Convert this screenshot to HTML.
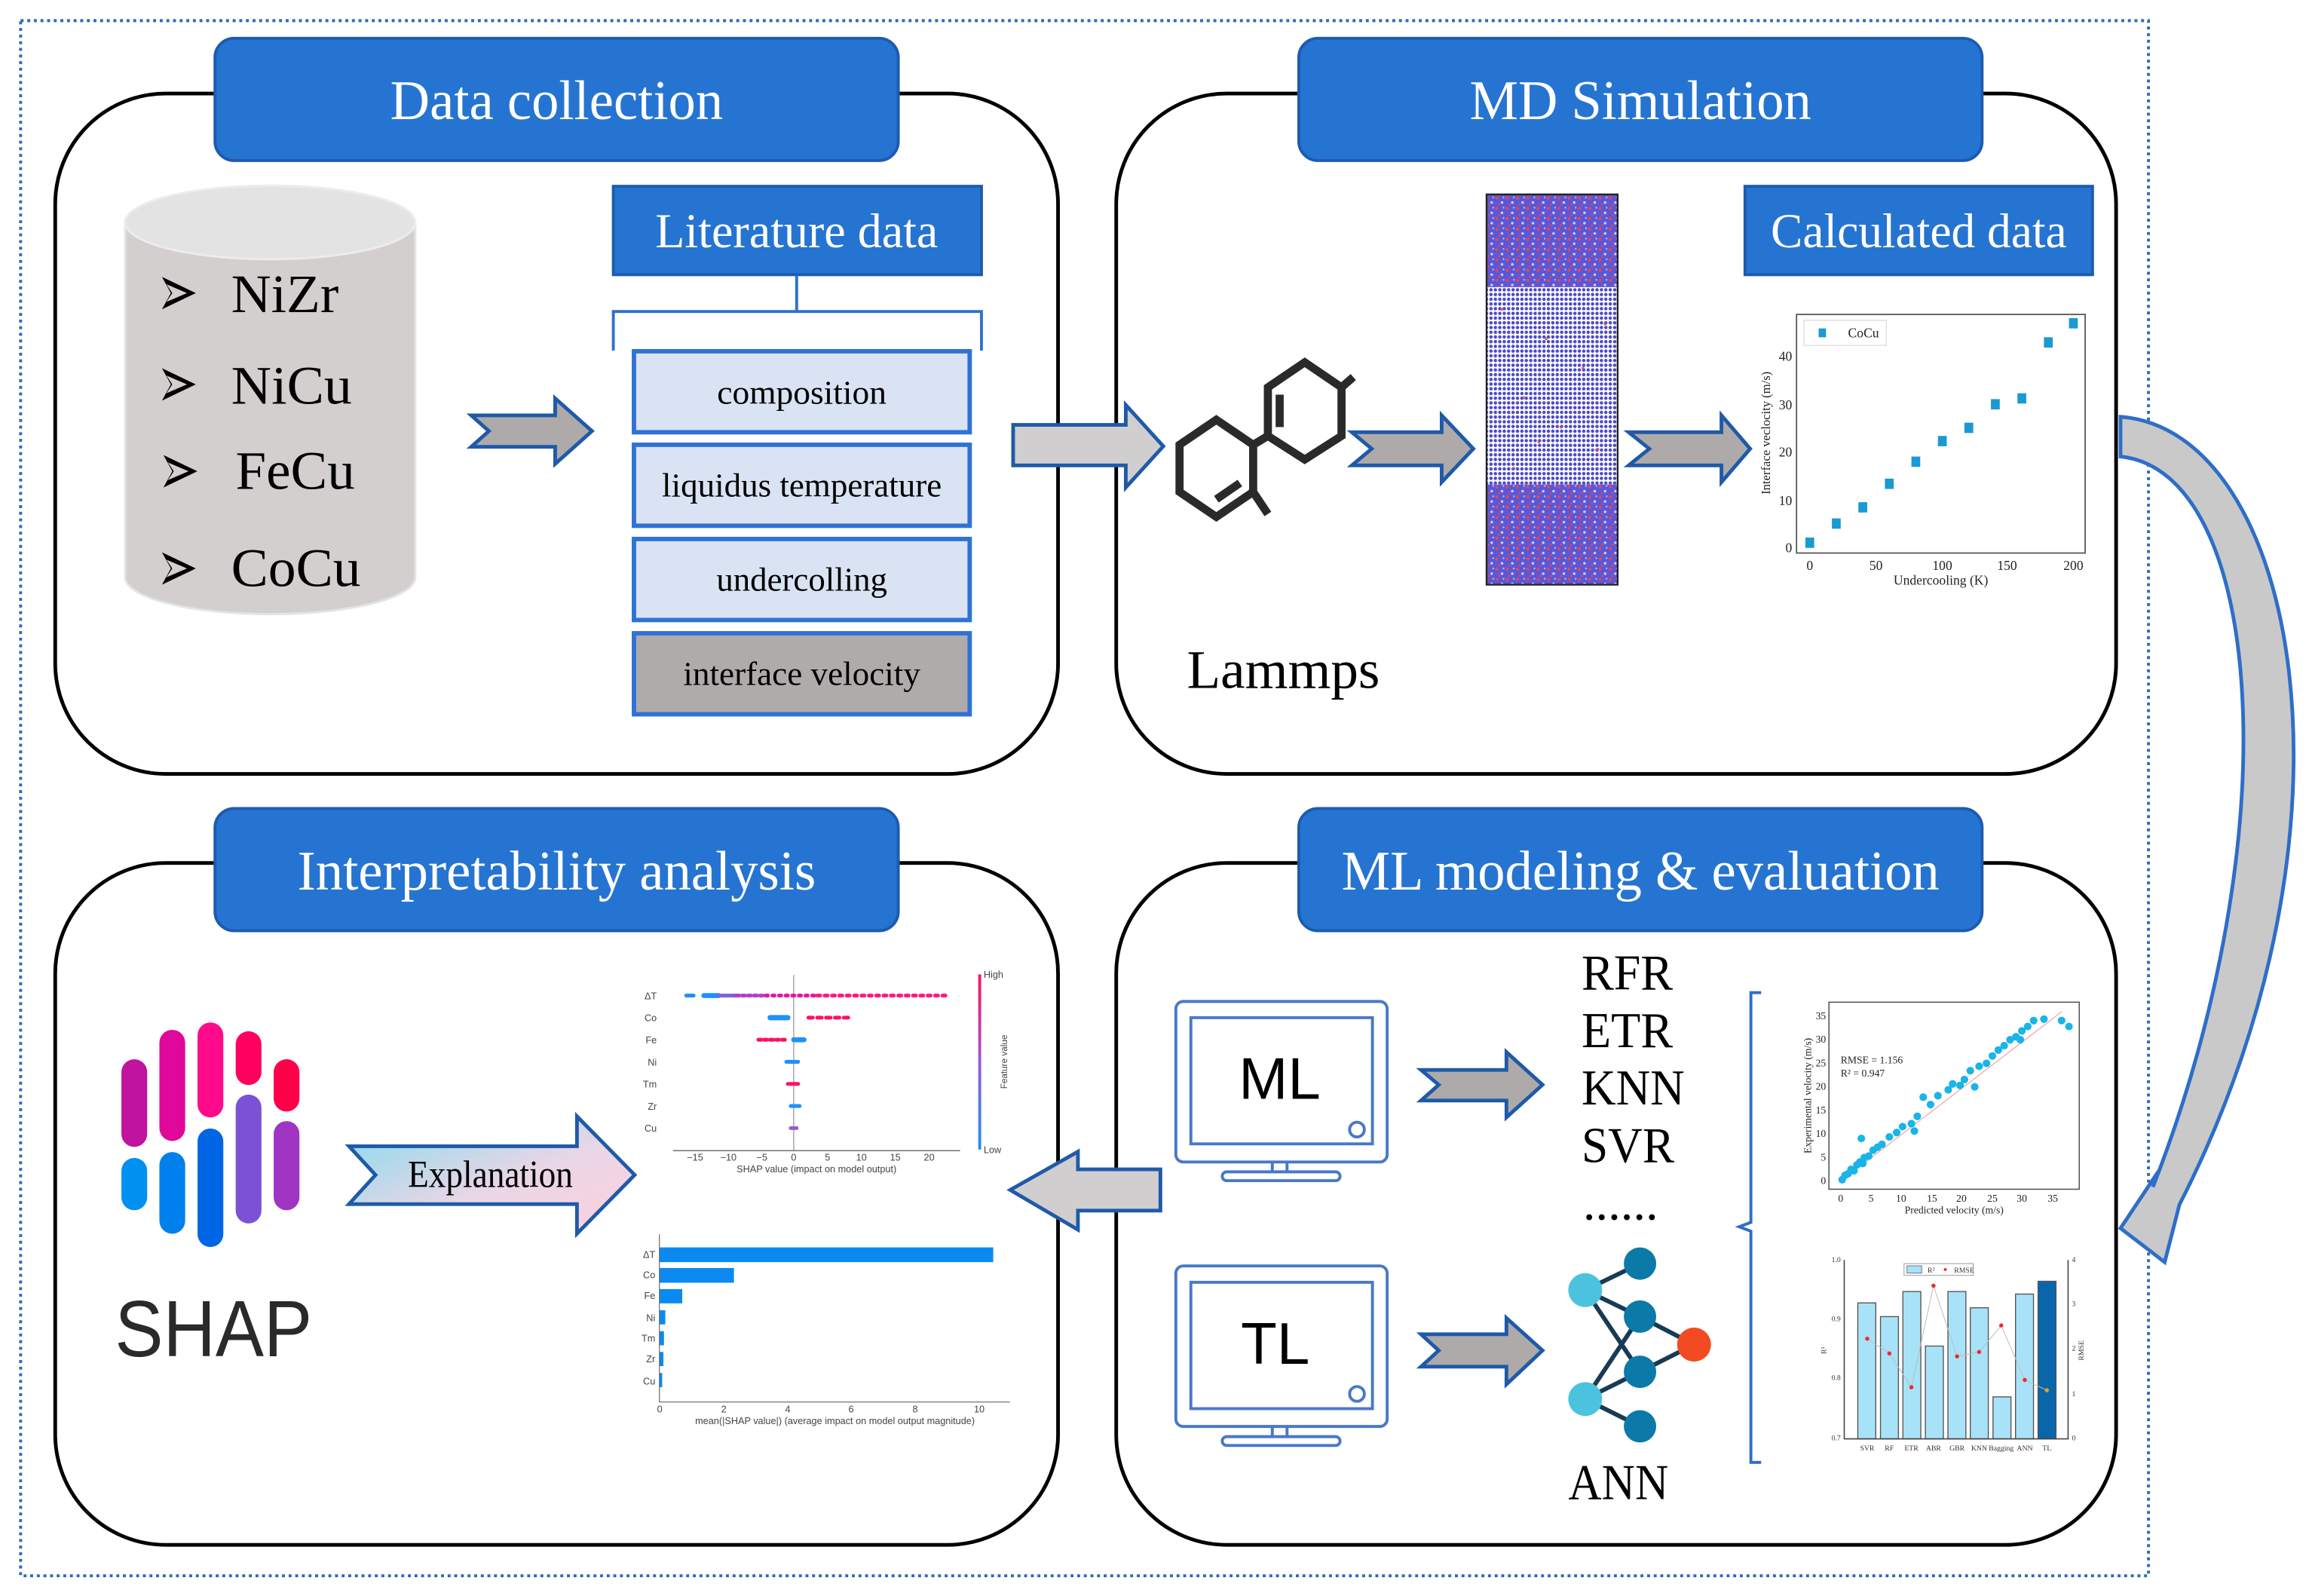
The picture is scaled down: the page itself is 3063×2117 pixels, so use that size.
<!DOCTYPE html>
<html><head><meta charset="utf-8"><style>html,body{margin:0;padding:0;background:#fff}svg{display:block}</style></head>
<body>
<svg xmlns="http://www.w3.org/2000/svg" width="3063" height="2117" viewBox="0 0 1568 1083.7" font-family="'Liberation Serif', serif">
<defs>
<pattern id="dense" width="7" height="7" patternUnits="userSpaceOnUse">
<rect width="7" height="7" fill="#5b57d6"/>
<circle cx="1.5" cy="1.5" r="1.1" fill="#e8454f"/><circle cx="5" cy="4.5" r="0.9" fill="#fff" opacity="0.7"/><circle cx="3" cy="6" r="0.8" fill="#e8454f" opacity="0.8"/><circle cx="6" cy="1" r="0.6" fill="#fff" opacity="0.6"/>
</pattern>
<pattern id="lattice" width="3" height="3.2" patternUnits="userSpaceOnUse">
<circle cx="1.5" cy="1.6" r="1.15" fill="#4a48c8"/>
</pattern>
<linearGradient id="expl" x1="0" y1="0" x2="1" y2="1"><stop offset="0" stop-color="#7fdcef"/><stop offset="0.55" stop-color="#e8d6e6"/><stop offset="1" stop-color="#ffd0dc"/></linearGradient>
<linearGradient id="cbar" x1="0" y1="1" x2="0" y2="0"><stop offset="0" stop-color="#1e90ff"/><stop offset="0.5" stop-color="#9a5ad0"/><stop offset="1" stop-color="#ff1060"/></linearGradient>
</defs>

<rect x="14" y="14" width="1445" height="1056" fill="none" stroke="#2e6ab8" stroke-width="2" stroke-dasharray="2,2.5"/>

<g fill="none" stroke="#000" stroke-width="2.5">
<rect x="37.5" y="63.5" width="681" height="462" rx="75" ry="75"/>
<rect x="758" y="63.5" width="679" height="462" rx="75" ry="75"/>
<rect x="37.5" y="586" width="681" height="463" rx="75" ry="75"/>
<rect x="758" y="586" width="679" height="463" rx="75" ry="75"/>
</g>

<g fill="#2674d1" stroke="#1c5bb0" stroke-width="2">
<rect x="146" y="26" width="464" height="83" rx="13"/>
<rect x="882" y="26" width="464" height="83" rx="13"/>
<rect x="146" y="549" width="464" height="83" rx="13"/>
<rect x="882" y="549" width="464" height="83" rx="13"/>
</g>
<g fill="#fff" font-size="38" text-anchor="middle">
<text x="378" y="81" textLength="226" lengthAdjust="spacingAndGlyphs">Data collection</text>
<text x="1114" y="81" textLength="232" lengthAdjust="spacingAndGlyphs">MD Simulation</text>
<text x="378" y="604" textLength="352" lengthAdjust="spacingAndGlyphs">Interpretability analysis</text>
<text x="1114" y="604" textLength="406" lengthAdjust="spacingAndGlyphs">ML modeling &amp; evaluation</text>
</g>

<path d="M85,151 L85,392 A98.5,25 0 0 0 282,392 L282,151 Z" fill="#d3cfcf" stroke="#e4e4e4" stroke-width="1.5"/>
<ellipse cx="183.5" cy="151" rx="98.5" ry="25" fill="#e3e3e3" stroke="#ececec" stroke-width="1.5"/>
<g fill="#000">
<path d="M110,188 L133,199 L110,210 L116,199 Z M113,193 L127,199 L113,205 L117,199Z" fill-rule="evenodd"/>
<path d="M110,250 L133,261 L110,272 L116,261 Z M113,255 L127,261 L113,267 L117,261Z" fill-rule="evenodd"/>
<path d="M111,309 L134,320 L111,331 L117,320 Z M114,314 L128,320 L114,326 L118,320Z" fill-rule="evenodd"/>
<path d="M110,375 L133,386 L110,397 L116,386 Z M113,380 L127,386 L113,392 L117,386Z" fill-rule="evenodd"/>
</g>
<g font-size="37" fill="#000">
<text x="157" y="212" textLength="73" lengthAdjust="spacingAndGlyphs">NiZr</text>
<text x="157" y="274" textLength="82" lengthAdjust="spacingAndGlyphs">NiCu</text>
<text x="160" y="332" textLength="81" lengthAdjust="spacingAndGlyphs">FeCu</text>
<text x="157" y="398" textLength="88" lengthAdjust="spacingAndGlyphs">CoCu</text>
</g>

<g fill="#aeaaaa" stroke="#1f5aa8" stroke-width="2.5" stroke-linejoin="miter">
<path d="M320,282 L377,282 L377,270.5 L402,292.7 L377,315 L377,303.4 L320,303.4 L332,292.7 Z"/>
<path d="M918,293.5 L979,293.5 L979,282 L1000.5,304.7 L979,327.4 L979,316 L918,316 L931.5,304.7 Z"/>
<path d="M1106,293.5 L1169,293.5 L1169,282 L1188.5,304.7 L1169,327.4 L1169,316 L1106,316 L1120,304.7 Z"/>
<path d="M965,726.5 L1023,726.5 L1023,714.4 L1047.5,736.6 L1023,758.7 L1023,747.3 L965,747.3 L977,736.6 Z"/>
<path d="M965,906 L1023,906 L1023,895 L1047.5,917 L1023,940 L1023,928 L965,928 L977,917 Z"/>
</g>
<path d="M688,288.5 L764.5,288.5 L764.5,275 L790,303 L764.5,331 L764.5,316 L688,316 Z" fill="#d0cece" stroke="#1f5aa8" stroke-width="2.5"/>
<path d="M788,794 L732,794 L732,782 L686,808 L732,835 L732,822 L788,822 Z" fill="#d0cece" stroke="#1f5aa8" stroke-width="2.5"/>

<rect x="416.5" y="126.5" width="250" height="60" fill="#2674d1" stroke="#1c5bb0" stroke-width="2"/>
<text x="541" y="168" font-size="33" fill="#fff" text-anchor="middle" textLength="192" lengthAdjust="spacingAndGlyphs">Literature data</text>
<path d="M541,187 L541,211.5 M416.5,238 L416.5,211.5 L666.5,211.5 L666.5,238" fill="none" stroke="#2f72cc" stroke-width="2"/>
<g stroke="#2f72d6" stroke-width="3">
<rect x="430.5" y="238.5" width="228" height="55" fill="#dae3f3"/>
<rect x="430.5" y="302" width="228" height="55" fill="#dae3f3"/>
<rect x="430.5" y="366" width="228" height="55" fill="#dae3f3"/>
<rect x="430.5" y="430" width="228" height="55" fill="#afabab"/>
</g>
<g font-size="23" fill="#000" text-anchor="middle">
<text x="544.5" y="274" textLength="115" lengthAdjust="spacingAndGlyphs">composition</text>
<text x="544.5" y="337" textLength="190" lengthAdjust="spacingAndGlyphs">liquidus temperature</text>
<text x="544.5" y="401" textLength="116" lengthAdjust="spacingAndGlyphs">undercolling</text>
<text x="544.5" y="465" textLength="161" lengthAdjust="spacingAndGlyphs">interface velocity</text>
</g>

<g fill="none" stroke="#2a2a2a" stroke-width="5.5" stroke-linejoin="miter">
<path d="M826,285 L851,302 L851,334 L826,351 L801,334 L801,302 Z"/>
<path d="M886,246 L911,263 L911,296 L886,312 L861,296 L861,263 Z"/>
<path d="M851,302 L861,296 M911,263 L919,256 M851,334 L861,349 M869,268 L869,290 M826,339 L842,328"/>
</g>
<rect x="1009.5" y="132" width="89" height="63" fill="url(#dense)"/>
<rect x="1009.5" y="195" width="89" height="134" fill="#fff"/>
<rect x="1009.5" y="195" width="89" height="134" fill="url(#lattice)"/>
<g fill="#e24a55" opacity="0.8">
<circle cx="1020" cy="210" r="1"/><circle cx="1050" cy="230" r="1"/><circle cx="1075" cy="250" r="1"/><circle cx="1035" cy="270" r="1"/><circle cx="1060" cy="290" r="1"/><circle cx="1085" cy="305" r="1"/><circle cx="1028" cy="318" r="1"/><circle cx="1090" cy="220" r="1"/><circle cx="1045" cy="300" r="1"/>
</g>
<rect x="1009.5" y="329" width="89" height="68" fill="url(#dense)"/>
<rect x="1009.5" y="132" width="89" height="265" fill="none" stroke="#222" stroke-width="1.2"/>

<rect x="1185" y="126.5" width="236" height="60" fill="#2674d1" stroke="#1c5bb0" stroke-width="2"/>
<text x="1303" y="168" font-size="33" fill="#fff" text-anchor="middle" textLength="201" lengthAdjust="spacingAndGlyphs">Calculated data</text>

<rect x="1220" y="213.5" width="196" height="162" fill="none" stroke="#555" stroke-width="0.9"/>
<g fill="#1a9ad0">
<rect x="1226" y="365" width="6" height="7"/><rect x="1244" y="352" width="6" height="7"/><rect x="1262" y="341" width="6" height="7"/><rect x="1280" y="325" width="6" height="7"/><rect x="1298" y="310" width="6" height="7"/><rect x="1316" y="296" width="6" height="7"/><rect x="1334" y="287" width="6" height="7"/><rect x="1352" y="271" width="6" height="7"/><rect x="1370" y="267" width="6" height="7"/><rect x="1388" y="229" width="6" height="7"/><rect x="1405" y="216" width="6" height="7"/>
<rect x="1235" y="223" width="5" height="6"/>
</g>
<rect x="1225" y="217.5" width="56" height="17" fill="none" stroke="#ddd" stroke-width="0.7"/>
<g font-size="9" fill="#222">
<text x="1255" y="229">CoCu</text>
<g text-anchor="end"><text x="1217" y="375">0</text><text x="1217" y="343">10</text><text x="1217" y="310">20</text><text x="1217" y="278">30</text><text x="1217" y="245">40</text></g>
<g text-anchor="middle"><text x="1229" y="387">0</text><text x="1274" y="387">50</text><text x="1319" y="387">100</text><text x="1363" y="387">150</text><text x="1408" y="387">200</text>
<text x="1318" y="397">Undercooling (K)</text></g>
<text transform="translate(1202,294) rotate(-90)" text-anchor="middle" font-size="8.5">Interface veclocity (m/s)</text>
</g>

<text x="806" y="467" font-size="37" fill="#000" textLength="131" lengthAdjust="spacingAndGlyphs">Lammps</text>

<path d="M1440,283 C1560,292 1612,560 1480,818 L1470,857 L1440,834 L1466,795 L1462,806 C1556,565 1537,320 1440,310 Z" fill="#c9c9c9" stroke="#2e6ec8" stroke-width="2.5" stroke-linejoin="miter"/>

<g fill="none" stroke="#4a78c8" stroke-width="2">
<rect x="798.5" y="680" width="143.5" height="109" rx="5"/>
<rect x="808.7" y="691" width="123.3" height="85.7"/>
<circle cx="921.5" cy="767" r="5"/>
<path d="M864,789 L864,796 M874,789 L874,796"/>
<rect x="830" y="795.7" width="80" height="6" rx="3"/>
<rect x="798.5" y="859.6" width="143.5" height="109" rx="5"/>
<rect x="808.7" y="870.7" width="123.3" height="85.8"/>
<circle cx="921.5" cy="946.5" r="5"/>
<path d="M864,968.6 L864,975.5 M874,968.6 L874,975.5"/>
<rect x="830" y="975.5" width="80" height="6" rx="3"/>
</g>
<g font-family="'Liberation Sans', sans-serif" font-size="40" text-anchor="middle" fill="#000">
<text x="869" y="746">ML</text>
<text x="866" y="926">TL</text>
</g>
<g font-size="34" fill="#000">
<text x="1074" y="672" textLength="62" lengthAdjust="spacingAndGlyphs">RFR</text>
<text x="1074" y="711" textLength="62" lengthAdjust="spacingAndGlyphs">ETR</text>
<text x="1074" y="750" textLength="70" lengthAdjust="spacingAndGlyphs">KNN</text>
<text x="1074" y="789" textLength="63" lengthAdjust="spacingAndGlyphs">SVR</text>
<text x="1075" y="828">......</text>
<text x="1065" y="1018" textLength="68" lengthAdjust="spacingAndGlyphs">ANN</text>
</g>
<g stroke="#173b55" stroke-width="3">
<path d="M1076.5,876 L1113.7,858 M1076.5,876 L1113.7,894 M1076.5,876 L1113.7,931.5 M1076.5,950 L1113.7,894 M1076.5,950 L1113.7,931.5 M1076.5,950 L1113.7,968.5 M1113.7,894 L1150.4,913 M1113.7,931.5 L1150.4,913"/>
</g>
<g fill="#0c7aa8">
<circle cx="1113.7" cy="858" r="11"/><circle cx="1113.7" cy="894" r="11"/><circle cx="1113.7" cy="931.5" r="11"/><circle cx="1113.7" cy="968.5" r="11"/>
</g>
<circle cx="1076.5" cy="876" r="11.5" fill="#4cc3de"/><circle cx="1076.5" cy="950" r="11.5" fill="#4cc3de"/>
<circle cx="1150.4" cy="913" r="11.5" fill="#f24a22"/>
<path d="M1196,674 L1189,674 L1189,830 L1181,833 L1189,836 L1189,993 L1196,993" fill="none" stroke="#2f6ec8" stroke-width="2"/>

<rect x="1242" y="680.5" width="170" height="127" fill="none" stroke="#555" stroke-width="0.8"/>
<line x1="1250" y1="802" x2="1400" y2="687" stroke="#f0a0a0" stroke-width="0.6"/>
<g fill="#19b4e8">
<circle cx="1251" cy="801" r="2.6"/><circle cx="1253" cy="798" r="2.6"/><circle cx="1255" cy="797" r="2.6"/><circle cx="1257" cy="794" r="2.6"/><circle cx="1259" cy="795" r="2.6"/><circle cx="1261" cy="791" r="2.6"/><circle cx="1263" cy="789" r="2.6"/><circle cx="1265" cy="790" r="2.6"/><circle cx="1266" cy="786" r="2.6"/><circle cx="1269" cy="785" r="2.6"/><circle cx="1272" cy="781" r="2.6"/><circle cx="1275" cy="779" r="2.6"/><circle cx="1264" cy="773" r="2.6"/><circle cx="1278" cy="777" r="2.6"/><circle cx="1283" cy="772" r="2.6"/><circle cx="1288" cy="769" r="2.6"/><circle cx="1292" cy="765" r="2.6"/><circle cx="1298" cy="763" r="2.6"/><circle cx="1302" cy="758" r="2.6"/><circle cx="1306" cy="745" r="2.6"/><circle cx="1300" cy="768" r="2.6"/><circle cx="1311" cy="750" r="2.6"/><circle cx="1316" cy="744" r="2.6"/><circle cx="1323" cy="740" r="2.6"/><circle cx="1326" cy="736" r="2.6"/><circle cx="1331" cy="737" r="2.6"/><circle cx="1334" cy="733" r="2.6"/><circle cx="1338" cy="727" r="2.6"/><circle cx="1344" cy="724" r="2.6"/><circle cx="1349" cy="722" r="2.6"/><circle cx="1353" cy="717" r="2.6"/><circle cx="1357" cy="713" r="2.6"/><circle cx="1361" cy="710" r="2.6"/><circle cx="1365" cy="706" r="2.6"/><circle cx="1369" cy="704" r="2.6"/><circle cx="1373" cy="700" r="2.6"/><circle cx="1377" cy="697" r="2.6"/><circle cx="1381" cy="693" r="2.6"/><circle cx="1388" cy="692" r="2.6"/><circle cx="1400" cy="693" r="2.6"/><circle cx="1405" cy="697" r="2.6"/><circle cx="1341" cy="738" r="2.6"/><circle cx="1372" cy="706" r="2.6"/>
</g>
<g font-size="7" fill="#222">
<text x="1250" y="722">RMSE = 1.156</text>
<text x="1250" y="731">R² = 0.947</text>
<g text-anchor="middle"><text x="1250" y="816">0</text><text x="1270.6" y="816">5</text><text x="1291" y="816">10</text><text x="1312" y="816">15</text><text x="1332" y="816">20</text><text x="1353" y="816">25</text><text x="1373" y="816">30</text><text x="1394" y="816">35</text>
<text x="1327" y="824">Predicted velocity (m/s)</text></g>
<g text-anchor="end"><text x="1240" y="804">0</text><text x="1240" y="788">5</text><text x="1240" y="772">10</text><text x="1240" y="756">15</text><text x="1240" y="740">20</text><text x="1240" y="724">25</text><text x="1240" y="708">30</text><text x="1240" y="692">35</text></g>
<text transform="translate(1230,744) rotate(-90)" text-anchor="middle">Experimental velocity (m/s)</text>
</g>

<g stroke="#555" stroke-width="0.7" fill="#a8e2f8">
<rect x="1261.6" y="884.7" width="12.2" height="92.3"/>
<rect x="1277" y="894" width="12.2" height="83"/>
<rect x="1292.2" y="877" width="12.2" height="100"/>
<rect x="1307.5" y="914" width="12.2" height="63"/>
<rect x="1322.8" y="877" width="12.2" height="100"/>
<rect x="1338" y="888" width="12.2" height="89"/>
<rect x="1353.4" y="948.5" width="12.2" height="28.5"/>
<rect x="1368.7" y="878.7" width="12.2" height="98.3"/>
<rect x="1384" y="870" width="12.2" height="107" fill="#0a66aa"/>
</g>
<path d="M1252.4,855.5 L1252.4,977 L1404.4,977 L1404.4,855.5" fill="none" stroke="#444" stroke-width="0.8"/>
<polyline points="1268,909 1283,919 1298,942 1313,873 1329,921 1344,918 1359,900 1375,937 1390,944" fill="none" stroke="#bbb" stroke-width="0.5"/>
<g fill="#f02a2a"><circle cx="1268" cy="909" r="1.4"/><circle cx="1283" cy="919" r="1.4"/><circle cx="1298" cy="942" r="1.4"/><circle cx="1313" cy="873" r="1.4"/><circle cx="1329" cy="921" r="1.4"/><circle cx="1344" cy="918" r="1.4"/><circle cx="1359" cy="900" r="1.4"/><circle cx="1375" cy="937" r="1.4"/></g>
<circle cx="1390" cy="944" r="1.4" fill="#f0a020"/>
<rect x="1293" y="858" width="47" height="8" fill="none" stroke="#999" stroke-width="0.5"/>
<rect x="1295" y="859.5" width="10" height="5" fill="#a8e2f8" stroke="#555" stroke-width="0.4"/>
<g font-size="5" fill="#333">
<text x="1309" y="864">R²</text><circle cx="1321" cy="862" r="1" fill="#f02a2a"/><text x="1327" y="864">RMSE</text>
<g text-anchor="middle"><text x="1268" y="985">SVR</text><text x="1283" y="985">RF</text><text x="1298" y="985">ETR</text><text x="1313" y="985">ABR</text><text x="1329" y="985">GBR</text><text x="1344" y="985">KNN</text><text x="1359" y="985">Bagging</text><text x="1375" y="985">ANN</text><text x="1390" y="985">TL</text></g>
<g text-anchor="end"><text x="1250" y="978">0.7</text><text x="1250" y="937">0.8</text><text x="1250" y="897">0.9</text><text x="1250" y="857">1.0</text></g>
<text x="1407" y="978">0</text><text x="1407" y="948">1</text><text x="1407" y="917">2</text><text x="1407" y="887">3</text><text x="1407" y="857">4</text>
<text transform="translate(1240,917) rotate(-90)" text-anchor="middle">R²</text>
<text transform="translate(1415,917) rotate(-90)" text-anchor="middle">RMSE</text>
</g>

<g stroke-linecap="round" stroke-width="17.5">
<line x1="91.2" y1="728" x2="91.2" y2="770" stroke="#c0139f"/>
<line x1="91.2" y1="795" x2="91.2" y2="813" stroke="#0090f0"/>
<line x1="117" y1="708" x2="117" y2="766" stroke="#e0089a"/>
<line x1="117" y1="791" x2="117" y2="829" stroke="#0080ec"/>
<line x1="142.9" y1="703" x2="142.9" y2="750" stroke="#ff0a8a"/>
<line x1="142.9" y1="775" x2="142.9" y2="838" stroke="#0066e6"/>
<line x1="168.8" y1="709" x2="168.8" y2="728" stroke="#ff0060"/>
<line x1="168.8" y1="752" x2="168.8" y2="822" stroke="#7b52d6"/>
<line x1="194.6" y1="728" x2="194.6" y2="746" stroke="#ff0048"/>
<line x1="194.6" y1="770" x2="194.6" y2="813" stroke="#a035c4"/>
</g>
<text x="78" y="921" font-family="'Liberation Sans', 'DejaVu Sans', sans-serif" font-size="54" font-weight="300" fill="#2a2a2a" textLength="134" lengthAdjust="spacingAndGlyphs">SHAP</text>

<path d="M237,778.3 L391.8,778.3 L391.8,758 L431,797.8 L391.8,837.7 L391.8,817.6 L237,817.6 L255,797.8 Z" fill="url(#expl)" stroke="#1f5aa8" stroke-width="2.5"/>
<text x="277" y="806" font-size="26" fill="#000" textLength="112" lengthAdjust="spacingAndGlyphs">Explanation</text>

<g font-family="'Liberation Sans', sans-serif" font-size="6.5" fill="#444">
<g text-anchor="end"><text x="446" y="678.5">ΔT</text><text x="446" y="693.5">Co</text><text x="446" y="708.5">Fe</text><text x="446" y="723.5">Ni</text><text x="446" y="738.5">Tm</text><text x="446" y="753.5">Zr</text><text x="446" y="768.5">Cu</text></g>
<g text-anchor="middle"><text x="472" y="788">−15</text><text x="494.7" y="788">−10</text><text x="517.4" y="788">−5</text><text x="539" y="788">0</text><text x="562" y="788">5</text><text x="585" y="788">10</text><text x="608" y="788">15</text><text x="631" y="788">20</text>
<text x="554.5" y="796">SHAP value (impact on model output)</text></g>
<text x="668" y="664">High</text><text x="668" y="783">Low</text>
<text transform="translate(684,721) rotate(-90)" text-anchor="middle" font-size="6">Feature value</text>
</g>
<line x1="457" y1="781.3" x2="652" y2="781.3" stroke="#555" stroke-width="0.6"/>
<line x1="539" y1="662" x2="539" y2="781" stroke="#777" stroke-width="0.5"/>
<rect x="664.3" y="661.6" width="2" height="119" fill="url(#cbar)"/>
<g stroke-width="2.6" stroke-linecap="round">
<line x1="466" y1="676" x2="471" y2="676" stroke="#1e90ff"/>
<line x1="478" y1="676" x2="488" y2="676" stroke="#1e90ff" stroke-width="3.4"/>
<line x1="488" y1="676" x2="500" y2="676" stroke="#7a66e0"/>
<line x1="500" y1="676" x2="520" y2="676" stroke="#b042c8" stroke-dasharray="2,2"/>
<line x1="520" y1="676" x2="555" y2="676" stroke="#e41a9a" stroke-dasharray="1.5,3"/>
<line x1="555" y1="676" x2="645" y2="676" stroke="#ff1a80" stroke-dasharray="2,3"/>
<line x1="523" y1="691" x2="535" y2="691" stroke="#1e90ff" stroke-width="3.6"/>
<line x1="549" y1="691" x2="578" y2="691" stroke="#ff1060" stroke-dasharray="3,3"/>
<line x1="515" y1="706" x2="534" y2="706" stroke="#ff1060" stroke-dasharray="2,2"/>
<line x1="539" y1="706" x2="546" y2="706" stroke="#1e90ff" stroke-width="3.4"/>
<line x1="534" y1="721" x2="542" y2="721" stroke="#1e90ff"/>
<line x1="535" y1="736" x2="542" y2="736" stroke="#ff1060"/>
<line x1="537" y1="751" x2="543" y2="751" stroke="#1e90ff"/>
<line x1="537" y1="766" x2="541" y2="766" stroke="#9a5ad0"/>
</g>

<g fill="#0a8af0">
<rect x="447.8" y="847" width="226.7" height="10"/>
<rect x="447.8" y="861" width="50.6" height="10"/>
<rect x="447.8" y="875.3" width="15.5" height="9.7"/>
<rect x="447.8" y="889.7" width="4" height="9.6"/>
<rect x="447.8" y="903.9" width="3.1" height="9.6"/>
<rect x="447.8" y="918" width="2.7" height="9.6"/>
<rect x="447.8" y="932.3" width="1.9" height="9.6"/>
</g>
<path d="M447.8,838 L447.8,952 L685.8,952" fill="none" stroke="#666" stroke-width="0.6"/>
<g font-family="'Liberation Sans', sans-serif" font-size="6.5" fill="#444">
<g text-anchor="end"><text x="445" y="854">ΔT</text><text x="445" y="868">Co</text><text x="445" y="882">Fe</text><text x="445" y="897">Ni</text><text x="445" y="911">Tm</text><text x="445" y="925">Zr</text><text x="445" y="940">Cu</text></g>
<g text-anchor="middle"><text x="448" y="959">0</text><text x="491.5" y="959">2</text><text x="535" y="959">4</text><text x="578" y="959">6</text><text x="621.5" y="959">8</text><text x="665" y="959">10</text>
<text x="567" y="967">mean(|SHAP value|) (average impact on model output magnitude)</text></g>
</g>
</svg>
</body></html>
